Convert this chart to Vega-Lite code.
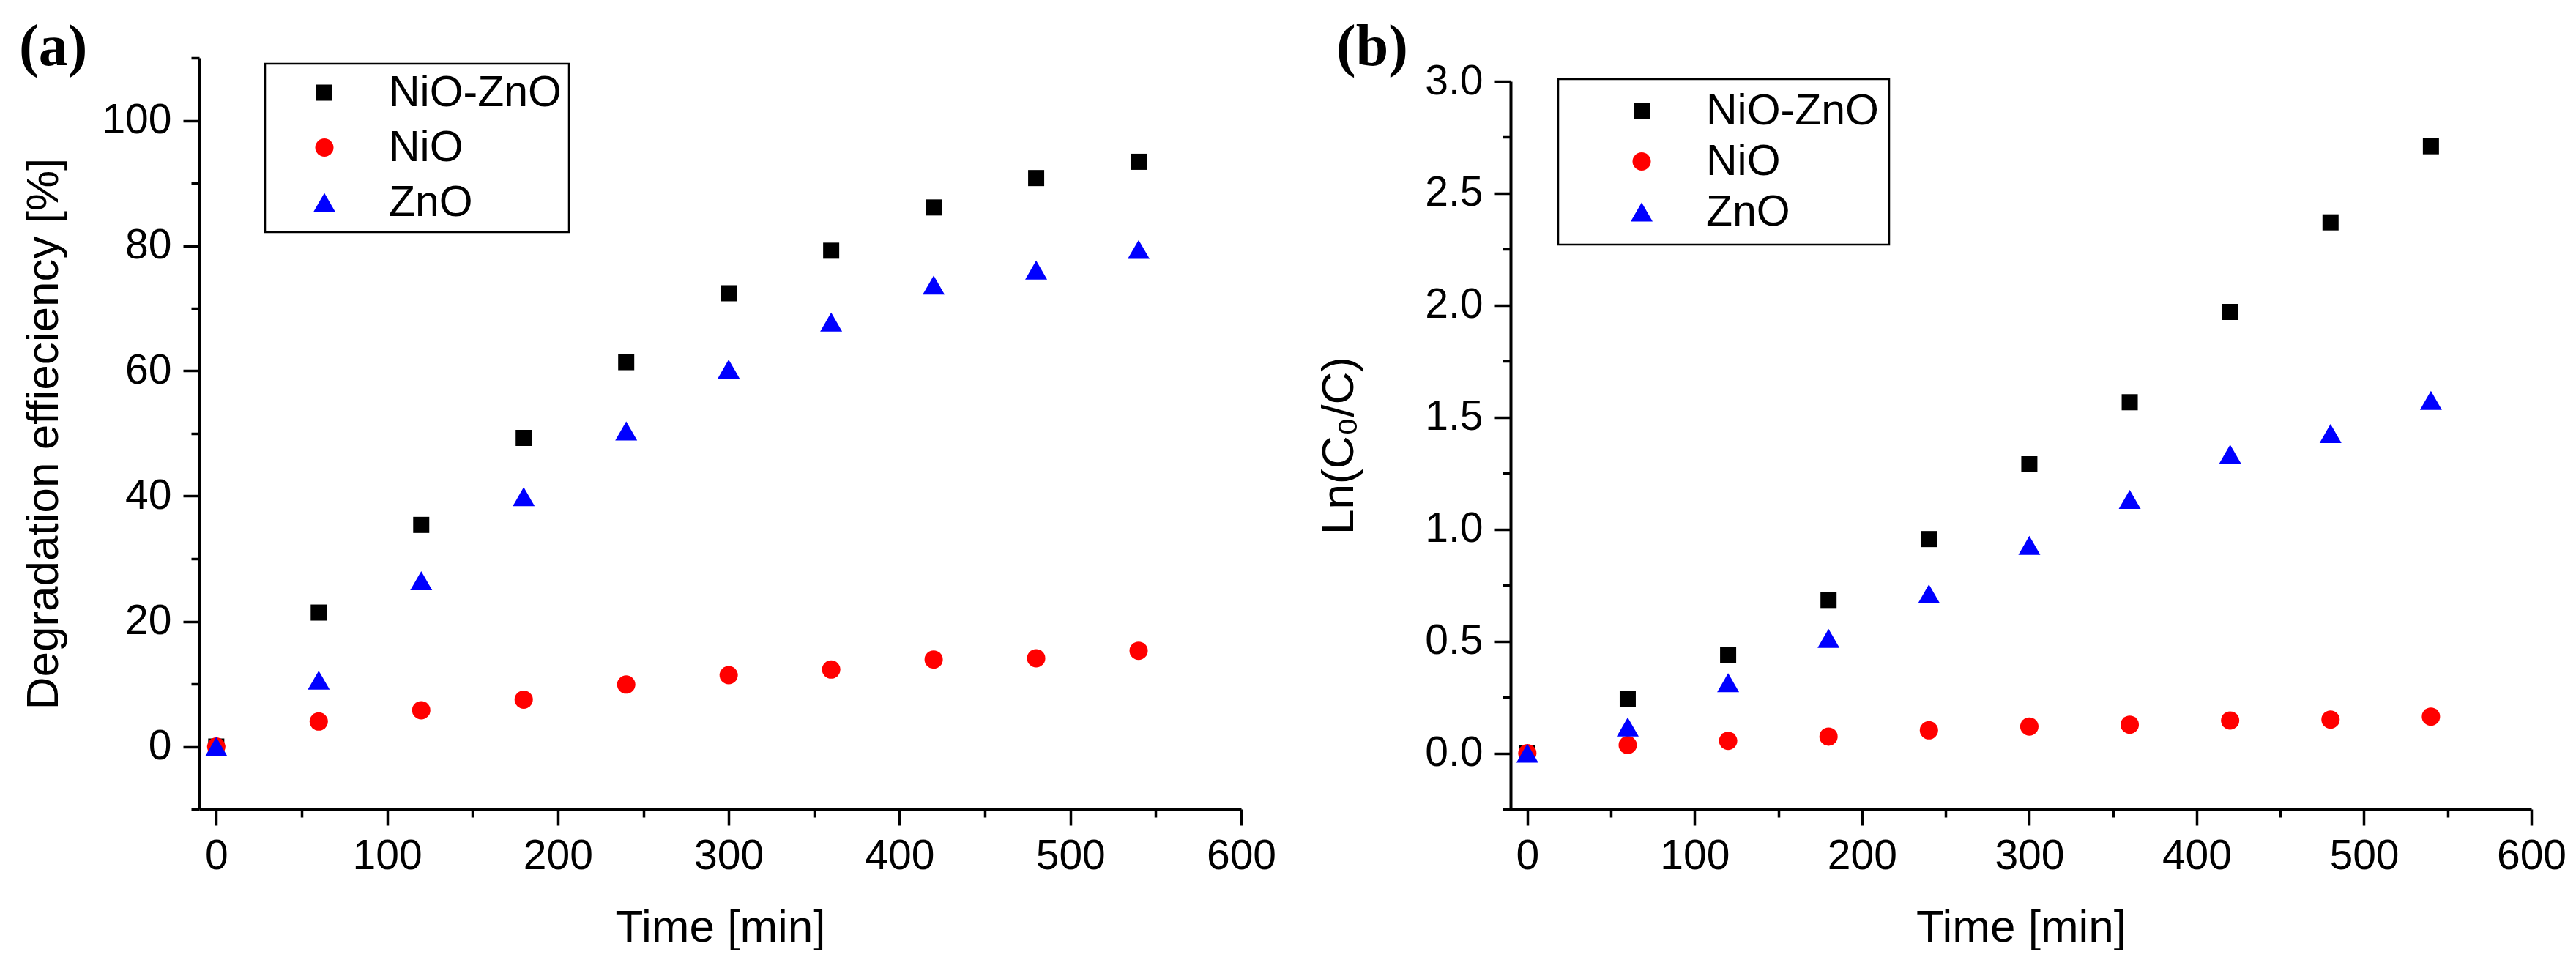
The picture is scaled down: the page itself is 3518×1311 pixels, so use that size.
{
  "$schema": "https://vega.github.io/schema/vega-lite/v6.json",
  "background": "white",
  "padding": {"left": 26, "top": 25, "right": 0, "bottom": 0},
  "datasets": {
    "a": [
      {"time": 0, "value": 0, "sample": "NiO-ZnO"},
      {"time": 60, "value": 21.4, "sample": "NiO-ZnO"},
      {"time": 120, "value": 35.4, "sample": "NiO-ZnO"},
      {"time": 180, "value": 49.3, "sample": "NiO-ZnO"},
      {"time": 240, "value": 61.4, "sample": "NiO-ZnO"},
      {"time": 300, "value": 72.4, "sample": "NiO-ZnO"},
      {"time": 360, "value": 79.2, "sample": "NiO-ZnO"},
      {"time": 420, "value": 86.1, "sample": "NiO-ZnO"},
      {"time": 480, "value": 90.8, "sample": "NiO-ZnO"},
      {"time": 540, "value": 93.4, "sample": "NiO-ZnO"},
      {"time": 0, "value": 0, "sample": "NiO"},
      {"time": 60, "value": 4.0, "sample": "NiO"},
      {"time": 120, "value": 5.8, "sample": "NiO"},
      {"time": 180, "value": 7.5, "sample": "NiO"},
      {"time": 240, "value": 9.9, "sample": "NiO"},
      {"time": 300, "value": 11.4, "sample": "NiO"},
      {"time": 360, "value": 12.3, "sample": "NiO"},
      {"time": 420, "value": 13.9, "sample": "NiO"},
      {"time": 480, "value": 14.1, "sample": "NiO"},
      {"time": 540, "value": 15.3, "sample": "NiO"},
      {"time": 0, "value": 0, "sample": "ZnO"},
      {"time": 60, "value": 10.6, "sample": "ZnO"},
      {"time": 120, "value": 26.5, "sample": "ZnO"},
      {"time": 180, "value": 39.9, "sample": "ZnO"},
      {"time": 240, "value": 50.4, "sample": "ZnO"},
      {"time": 300, "value": 60.3, "sample": "ZnO"},
      {"time": 360, "value": 67.8, "sample": "ZnO"},
      {"time": 420, "value": 73.7, "sample": "ZnO"},
      {"time": 480, "value": 76.1, "sample": "ZnO"},
      {"time": 540, "value": 79.4, "sample": "ZnO"}
    ],
    "b": [
      {"time": 0, "value": 0, "sample": "NiO-ZnO"},
      {"time": 60, "value": 0.242, "sample": "NiO-ZnO"},
      {"time": 120, "value": 0.437, "sample": "NiO-ZnO"},
      {"time": 180, "value": 0.684, "sample": "NiO-ZnO"},
      {"time": 240, "value": 0.956, "sample": "NiO-ZnO"},
      {"time": 300, "value": 1.29, "sample": "NiO-ZnO"},
      {"time": 360, "value": 1.567, "sample": "NiO-ZnO"},
      {"time": 420, "value": 1.97, "sample": "NiO-ZnO"},
      {"time": 480, "value": 2.37, "sample": "NiO-ZnO"},
      {"time": 540, "value": 2.71, "sample": "NiO-ZnO"},
      {"time": 0, "value": 0, "sample": "NiO"},
      {"time": 60, "value": 0.036, "sample": "NiO"},
      {"time": 120, "value": 0.055, "sample": "NiO"},
      {"time": 180, "value": 0.074, "sample": "NiO"},
      {"time": 240, "value": 0.102, "sample": "NiO"},
      {"time": 300, "value": 0.119, "sample": "NiO"},
      {"time": 360, "value": 0.127, "sample": "NiO"},
      {"time": 420, "value": 0.146, "sample": "NiO"},
      {"time": 480, "value": 0.150, "sample": "NiO"},
      {"time": 540, "value": 0.163, "sample": "NiO"},
      {"time": 0, "value": 0, "sample": "ZnO"},
      {"time": 60, "value": 0.117, "sample": "ZnO"},
      {"time": 120, "value": 0.315, "sample": "ZnO"},
      {"time": 180, "value": 0.513, "sample": "ZnO"},
      {"time": 240, "value": 0.711, "sample": "ZnO"},
      {"time": 300, "value": 0.928, "sample": "ZnO"},
      {"time": 360, "value": 1.133, "sample": "ZnO"},
      {"time": 420, "value": 1.335, "sample": "ZnO"},
      {"time": 480, "value": 1.427, "sample": "ZnO"},
      {"time": 540, "value": 1.575, "sample": "ZnO"}
    ]
  },
  "bounds": "flush",
  "spacing": 368,
  "resolve": {"scale": {"color": "independent", "shape": "independent", "size": "independent"}},
  "hconcat": [
    {
      "title": {"text": "(a)", "anchor": "start", "frame": "group", "baseline": "alphabetic", "offset": 0, "dx": -246, "dy": 119},
      "width": 1423,
      "height": 1026,
      "data": {"name": "a"},
      "mark": {"type": "point", "filled": true, "opacity": 1, "strokeWidth": 0},
      "encoding": {
        "x": {
          "field": "time", "type": "quantitative",
          "scale": {"domain": [-10, 600], "nice": false, "zero": false},
          "axis": {
            "title": "Time [min]",
            "values": [0, 50, 100, 150, 200, 250, 300, 350, 400, 450, 500, 550, 600],
            "labelExpr": "datum.value % 100 === 0 ? datum.label : ''",
            "tickSize": {"condition": {"test": "datum.value % 100 !== 0", "value": 11}, "value": 22},
            "labelPadding": 14,
            "titlePadding": 39
          }
        },
        "y": {
          "field": "value", "type": "quantitative",
          "scale": {"domain": [-10, 110], "nice": false, "zero": false},
          "axis": {
            "title": "Degradation effieciency [%]",
            "values": [-10, 0, 10, 20, 30, 40, 50, 60, 70, 80, 90, 100, 110],
            "labelExpr": "datum.value % 20 === 0 ? datum.label : ''",
            "tickSize": {"condition": {"test": "datum.value % 20 !== 0", "value": 11}, "value": 22},
            "labelPadding": 16,
            "titlePadding": 47
          }
        },
        "color": {
          "field": "sample", "type": "nominal",
          "scale": {"domain": ["NiO-ZnO", "NiO", "ZnO"], "range": ["#000000", "#ff0000", "#0000ff"]},
          "legend": {"title": null, "orient": "none", "legendX": 90, "legendY": 8, "padding": 10, "symbolOffset": 41.5, "labelOffset": 58.5, "rowPadding": 15}
        },
        "shape": {
          "field": "sample", "type": "nominal",
          "scale": {"domain": ["NiO-ZnO", "NiO", "ZnO"], "range": ["square", "circle", "triangle-up"]}
        },
        "size": {
          "field": "sample", "type": "nominal",
          "scale": {"type": "ordinal", "domain": ["NiO-ZnO", "NiO", "ZnO"], "range": [484, 625, 900]}
        }
      }
    },
    {
      "title": {"text": "(b)", "anchor": "start", "frame": "group", "baseline": "alphabetic", "offset": 0, "dx": -238, "dy": 90},
      "width": 1394,
      "height": 1026,
      "data": {"name": "b"},
      "mark": {"type": "point", "filled": true, "opacity": 1, "strokeWidth": 0},
      "encoding": {
        "x": {
          "field": "time", "type": "quantitative",
          "scale": {"domain": [-10, 600], "nice": false, "zero": false},
          "axis": {
            "title": "Time [min]",
            "values": [0, 50, 100, 150, 200, 250, 300, 350, 400, 450, 500, 550, 600],
            "labelExpr": "datum.value % 100 === 0 ? datum.label : ''",
            "tickSize": {"condition": {"test": "datum.value % 100 !== 0", "value": 11}, "value": 22},
            "labelPadding": 14,
            "titlePadding": 39
          }
        },
        "y": {
          "field": "value", "type": "quantitative",
          "scale": {"domain": [-0.25, 3], "nice": false, "zero": false, "range": [1026, 32]},
          "axis": {
            "title": "Ln(C₀/C)",
            "format": ".1f",
            "values": [-0.25, 0, 0.25, 0.5, 0.75, 1, 1.25, 1.5, 1.75, 2, 2.25, 2.5, 2.75, 3],
            "labelExpr": "(datum.value * 4) % 2 === 0 ? datum.label : ''",
            "tickSize": {"condition": {"test": "(datum.value * 4) % 2 !== 0", "value": 11}, "value": 22},
            "labelPadding": 16,
            "titlePadding": 85
          }
        },
        "color": {
          "field": "sample", "type": "nominal",
          "scale": {"domain": ["NiO-ZnO", "NiO", "ZnO"], "range": ["#000000", "#ff0000", "#0000ff"]},
          "legend": {"title": null, "orient": "none", "legendX": 65, "legendY": 29, "padding": 14, "symbolOffset": 70.5, "labelOffset": 58.5, "rowPadding": 9}
        },
        "shape": {
          "field": "sample", "type": "nominal",
          "scale": {"domain": ["NiO-ZnO", "NiO", "ZnO"], "range": ["square", "circle", "triangle-up"]}
        },
        "size": {
          "field": "sample", "type": "nominal",
          "scale": {"type": "ordinal", "domain": ["NiO-ZnO", "NiO", "ZnO"], "range": [484, 625, 900]}
        }
      }
    }
  ],
  "config": {
    "font": "Liberation Sans",
    "view": {"stroke": null},
    "title": {"font": "Liberation Serif", "fontWeight": "bold", "fontSize": 80, "color": "black"},
    "axis": {
      "grid": false,
      "domainColor": "black",
      "domainWidth": 4,
      "tickColor": "black",
      "tickWidth": 3.5,
      "labelFont": "Liberation Sans",
      "labelFontSize": 57,
      "labelColor": "black",
      "labelFlush": false,
      "labelOverlap": false,
      "labelBound": false,
      "titleFont": "Liberation Sans",
      "titleFontSize": 62,
      "titleFontWeight": "normal",
      "titleColor": "black"
    },
    "legend": {
      "labelFont": "Liberation Sans",
      "labelFontSize": 59,
      "labelColor": "black",
      "strokeColor": "black",
      "strokeWidth": 2.5,
      "fillColor": "white",
      "labelLimit": 0
    }
  }
}
